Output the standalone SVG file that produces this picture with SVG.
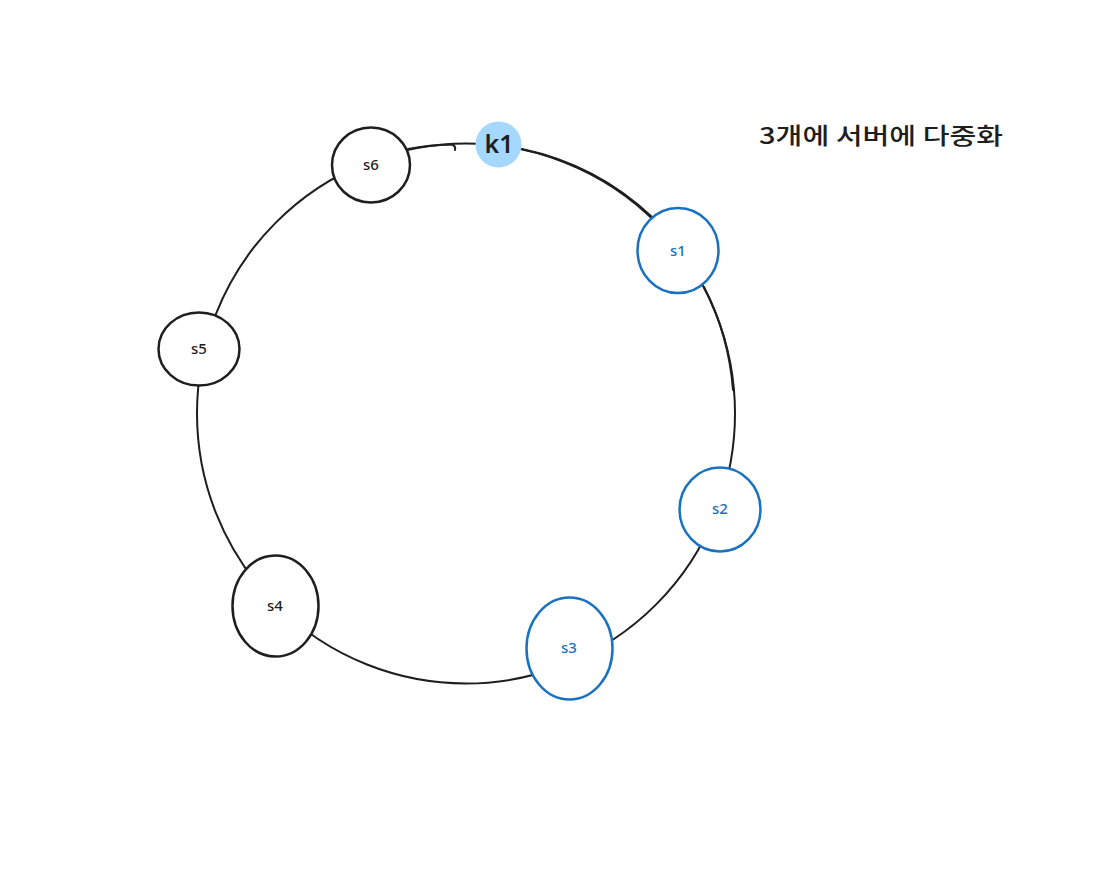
<svg xmlns="http://www.w3.org/2000/svg" width="1098" height="877" viewBox="0 0 1098 877">
<style>
.ring{fill:none;stroke:#1e1e1e;stroke-width:2;stroke-linecap:round}
.nb{fill:#ffffff;stroke:#1e1e1e;stroke-width:2.5}
.nu{fill:#ffffff;stroke:#1971c2;stroke-width:2.5}
.tb{font-family:"Noto Sans","Liberation Sans",sans-serif;font-size:15px;font-weight:500;fill:#1e1e1e;text-anchor:middle}
.tu{font-family:"Noto Sans","Liberation Sans",sans-serif;font-size:15px;font-weight:500;fill:#1971c2;text-anchor:middle}
</style>
<rect width="1098" height="877" fill="#ffffff"/>
<g id="connectors">
<ellipse class="ring" cx="466" cy="413.5" rx="269" ry="270"/>
<path class="ring" d="M408 149 A270 270 0 0 1 452 144.5 Q456 146 455 150" stroke-width="1.5"/>
<path class="ring" d="M522 149 A271 271 0 0 1 652 217" stroke-width="1.5"/>
<path class="ring" d="M704 287 A270 270 0 0 1 733 390" stroke-width="1.5"/>
</g>
<g id="k1">
<circle cx="498.5" cy="144.5" r="23" fill="#a5d8ff"/>
<text x="499" y="153" font-family="Noto Sans, Liberation Sans, sans-serif" font-size="25" font-weight="600" fill="#1e1e1e" text-anchor="middle">k1</text>
</g>
<g id="s6">
<ellipse class="nb" cx="371" cy="165" rx="39" ry="37.5"/>
<text class="tb" x="371" y="170">s6</text>
</g>
<g id="s1">
<ellipse class="nu" cx="678" cy="250.5" rx="40.5" ry="42.5"/>
<text class="tu" x="678" y="256">s1</text>
</g>
<g id="s5">
<ellipse class="nb" cx="199" cy="349" rx="40.5" ry="36.5"/>
<text class="tb" x="199" y="354">s5</text>
</g>
<g id="s2">
<ellipse class="nu" cx="720" cy="509.5" rx="40.5" ry="42"/>
<text class="tu" x="720" y="514">s2</text>
</g>
<g id="s4">
<ellipse class="nb" cx="275.5" cy="606" rx="43" ry="50.5"/>
<text class="tb" x="275" y="611">s4</text>
</g>
<g id="s3">
<ellipse class="nu" cx="569.5" cy="648.5" rx="43" ry="51"/>
<text class="tu" x="569" y="653">s3</text>
</g>
<g id="title">
<text x="759" y="144" font-family="Noto Sans CJK KR, Noto Sans, sans-serif" font-size="23" font-weight="500" fill="#1e1e1e" textLength="244" lengthAdjust="spacingAndGlyphs">3개에 서버에 다중화</text>
</g>
</svg>
